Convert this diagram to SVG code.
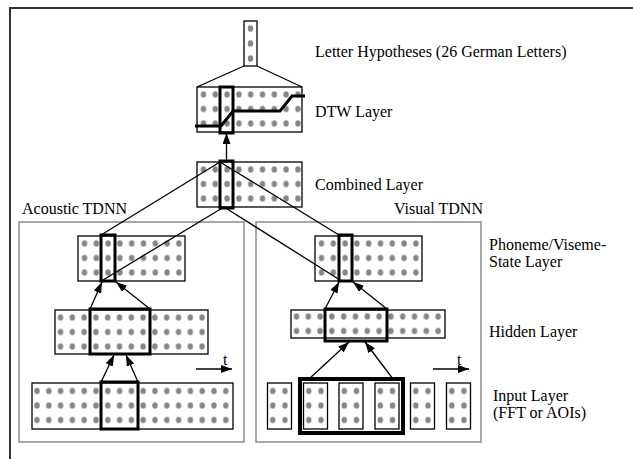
<svg xmlns="http://www.w3.org/2000/svg" width="633" height="459" viewBox="0 0 633 459">
<style>
.box{fill:#fff;stroke:#000;stroke-width:1.3}
.hi{fill:none;stroke:#000;stroke-width:3}
.grp{fill:none;stroke:#8a8a8a;stroke-width:1.5}
.lbl{font-family:"Liberation Serif","Times New Roman",serif;font-size:16px;fill:#000}
.ln{stroke:#000;stroke-width:1.3;fill:none}
.dot{fill:#858585}
</style>
<defs>
<pattern id="p3" patternUnits="userSpaceOnUse" x="0" y="0" width="11.8" height="14.5">
<ellipse class="dot" cx="5.9" cy="7.25" rx="2.7" ry="3.2"/>
</pattern>
<pattern id="pv" patternUnits="userSpaceOnUse" x="0" y="0" width="12.2" height="14.5">
<ellipse class="dot" cx="6.1" cy="7.25" rx="2.7" ry="3.2"/>
</pattern>
<marker id="ah" markerUnits="userSpaceOnUse" markerWidth="11" markerHeight="8" refX="11" refY="4" orient="auto">
<path d="M0,0 L11,4 L0,8 z" fill="#000"/>
</marker>
</defs>

<polyline points="10,459 10,8 633,8" fill="none" stroke="#333" stroke-width="2"/>

<g id="acoustic-tdnn">
<rect class="grp" x="19" y="222" width="225" height="220"/>
<text class="lbl" x="22" y="214">Acoustic TDNN</text>
</g>
<g id="visual-tdnn">
<rect class="grp" x="256" y="222" width="225" height="220"/>
<text class="lbl" x="394" y="214">Visual TDNN</text>
</g>

<g id="letter-hypotheses">
<rect class="box" x="244" y="21" width="13" height="45"/>
<ellipse class="dot" cx="250.5" cy="28.5" rx="2.7" ry="3.2"/>
<ellipse class="dot" cx="250.5" cy="43.5" rx="2.7" ry="3.2"/>
<ellipse class="dot" cx="250.5" cy="58.5" rx="2.7" ry="3.2"/>
<text class="lbl" x="315" y="57">Letter Hypotheses (26 German Letters)</text>
</g>

<g id="dtw-layer">
<rect class="box" x="197" y="87" width="105" height="45"/>
<g transform="translate(197.6,87.25)"><rect x="0" y="0" width="106.2" height="43.5" fill="url(#p3)"/></g>
<rect class="hi" x="220" y="87" width="13" height="46"/>
<path d="M195,126 L221,126 L233,111 L280,111 L292,96 L305,96" fill="none" stroke="#000" stroke-width="3"/>
<text class="lbl" x="315" y="117">DTW Layer</text>
</g>

<g id="combined-layer">
<rect class="box" x="197" y="162" width="105" height="45"/>
<g transform="translate(197.6,162.25)"><rect x="0" y="0" width="106.2" height="43.5" fill="url(#p3)"/></g>
<rect class="hi" x="220" y="161" width="13" height="47"/>
<text class="lbl" x="315" y="190">Combined Layer</text>
</g>

<g id="acoustic-state-layer">
<rect class="box" x="78" y="236" width="107" height="45"/>
<g transform="translate(78.6,236.25)"><rect x="0" y="0" width="106.2" height="43.5" fill="url(#p3)"/></g>
<rect class="hi" x="101" y="235" width="14" height="46"/>
</g>

<g id="acoustic-hidden-layer">
<rect class="box" x="55" y="310" width="153" height="44"/>
<g transform="translate(54.6,310.25)"><rect x="0" y="0" width="153.4" height="43.5" fill="url(#p3)"/></g>
<rect class="hi" x="90" y="309" width="60" height="45"/>
</g>

<g id="acoustic-input-layer">
<rect class="box" x="32" y="383" width="201" height="46"/>
<g transform="translate(31.1,383.75)"><rect x="0" y="0" width="200.6" height="43.5" fill="url(#p3)"/></g>
<rect class="hi" x="101" y="382" width="37" height="47"/>
</g>

<g id="visual-state-layer">
<rect class="box" x="315" y="236" width="107" height="45"/>
<g transform="translate(315.6,236.25)"><rect x="0" y="0" width="106.2" height="43.5" fill="url(#p3)"/></g>
<rect class="hi" x="339" y="235" width="13" height="46"/>
<text class="lbl" x="489" y="250">Phoneme/Viseme-</text>
<text class="lbl" x="489" y="267">State Layer</text>
</g>

<g id="visual-hidden-layer">
<rect class="box" x="291" y="310" width="154" height="28"/>
<g transform="translate(290.6,309.25)"><rect x="0" y="0" width="153.4" height="29" fill="url(#p3)"/></g>
<rect class="hi" x="325" y="309" width="62" height="32"/>
<text class="lbl" x="489" y="337">Hidden Layer</text>
</g>

<g id="visual-input-layer">
<rect class="box" x="267.5" y="383" width="24" height="46"/>
<rect class="box" x="303.5" y="383" width="24" height="46"/>
<rect class="box" x="339" y="383" width="24" height="46"/>
<rect class="box" x="375" y="383" width="24" height="46"/>
<rect class="box" x="410.5" y="383" width="24" height="46"/>
<rect class="box" x="446.5" y="383" width="24" height="46"/>
<g transform="translate(266.7,383.75)"><rect x="0" y="0" width="24.4" height="43.5" fill="url(#pv)"/></g>
<g transform="translate(302.7,383.75)"><rect x="0" y="0" width="24.4" height="43.5" fill="url(#pv)"/></g>
<g transform="translate(338.2,383.75)"><rect x="0" y="0" width="24.4" height="43.5" fill="url(#pv)"/></g>
<g transform="translate(374.2,383.75)"><rect x="0" y="0" width="24.4" height="43.5" fill="url(#pv)"/></g>
<g transform="translate(409.7,383.75)"><rect x="0" y="0" width="24.4" height="43.5" fill="url(#pv)"/></g>
<g transform="translate(445.7,383.75)"><rect x="0" y="0" width="24.4" height="43.5" fill="url(#pv)"/></g>
<rect x="300" y="379" width="103" height="54" fill="none" stroke="#000" stroke-width="4"/>
<text class="lbl" x="493" y="401">Input Layer</text>
<text class="lbl" x="493" y="418">(FFT or AOIs)</text>
</g>

<g id="time-axes">
<line class="ln" x1="196" y1="369" x2="232" y2="369" marker-end="url(#ah)"/>
<text class="lbl" x="223" y="365">t</text>
<line class="ln" x1="433" y1="369" x2="469" y2="369" marker-end="url(#ah)"/>
<text class="lbl" x="457" y="365">t</text>
</g>

<g id="connectors">
<line class="ln" x1="244" y1="66" x2="197" y2="87"/>
<line class="ln" x1="257" y1="66" x2="302" y2="87"/>
<line class="ln" x1="226.5" y1="161" x2="226.5" y2="133" marker-end="url(#ah)"/>
<line class="ln" x1="220" y1="162" x2="101" y2="235"/>
<line class="ln" x1="220" y1="162" x2="339" y2="235"/>
<line class="ln" x1="224" y1="207" x2="103" y2="280"/>
<line class="ln" x1="224" y1="207" x2="340" y2="280"/>
<line class="ln" x1="90" y1="309" x2="102" y2="282" marker-end="url(#ah)"/>
<line class="ln" x1="150" y1="309" x2="116" y2="282" marker-end="url(#ah)"/>
<line class="ln" x1="101" y1="382" x2="114" y2="355" marker-end="url(#ah)"/>
<line class="ln" x1="138" y1="382" x2="126" y2="355" marker-end="url(#ah)"/>
<line class="ln" x1="325" y1="309" x2="339" y2="282" marker-end="url(#ah)"/>
<line class="ln" x1="387" y1="309" x2="353" y2="282" marker-end="url(#ah)"/>
<line class="ln" x1="309" y1="379" x2="349" y2="342" marker-end="url(#ah)"/>
<line class="ln" x1="393" y1="379" x2="365" y2="342" marker-end="url(#ah)"/>
</g>
</svg>
